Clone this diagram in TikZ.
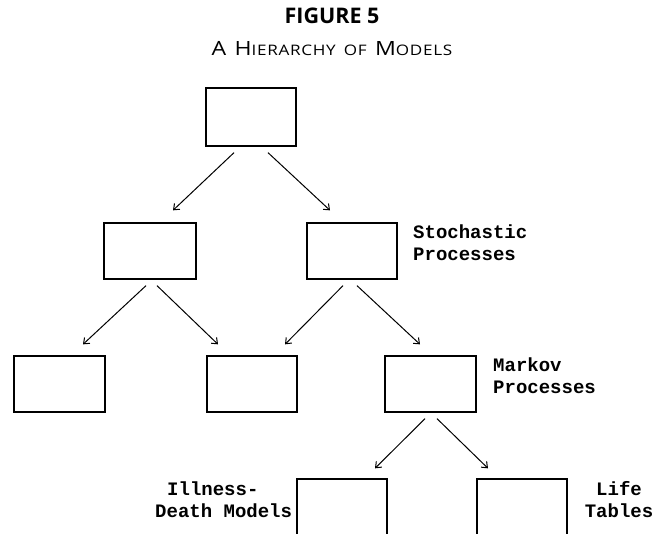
\documentclass[tikz,border=0pt]{standalone}
\usepackage{fontspec}
\setmainfont{Open Sans}
\newfontfamily\labelfont{Liberation Mono}
\newfontfamily\subtitlefont[LetterSpace=4]{Open Sans}
\usetikzlibrary{arrows.meta}

% small caps built by hand: full caps at 19.6pt, lower capitals at 14.5pt
\newcommand{\fullcapital}[1]{{\fontsize{19.6}{22}\selectfont #1}}
\newcommand{\lowcapital}[1]{{\fontsize{14.5}{16}\selectfont #1}}

\begin{document}
\begin{tikzpicture}[x=1pt,y=-1pt,
  modelbox/.style={draw, line width=1.3pt, minimum width=90pt, minimum height=56pt, inner sep=0pt},
  arr/.style={-{Straight Barb[length=5pt,width=8pt,line width=1pt]}, line width=1pt},
  lbl/.style={font=\labelfont\bfseries\fontsize{19}{22}\selectfont, inner sep=0pt}
]
\useasboundingbox (0,0) rectangle (668,534);
\clip (0,0) rectangle (668,534);

% title
\node[font=\bfseries\fontsize{21.5}{24}\selectfont, anchor=base, inner sep=0pt] (title) at (332,24) {FIGURE 5};
\node[font=\subtitlefont, anchor=base, inner sep=0pt] (subtitle) at (332,56)
  {\scalebox{1.18}[1]{\fullcapital{A}\hspace{7pt}\fullcapital{H}\lowcapital{IERARCHY}\hspace{7pt}\lowcapital{OF}\hspace{7pt}\fullcapital{M}\lowcapital{ODELS}}};

% boxes
\node[modelbox, minimum height=58pt] (top) at (251,117) {};
\node[modelbox, minimum width=92pt] (l2a) at (150,251) {};
\node[modelbox] (l2b) at (352,251) {};
\node[modelbox, minimum width=91pt] (l3a) at (59.5,384) {};
\node[modelbox] (l3b) at (252,384) {};
\node[modelbox, minimum width=91pt] (l3c) at (430.5,384) {};
\node[modelbox, minimum height=60pt] (l4a) at (342,509) {};
\node[modelbox, minimum height=60pt] (l4b) at (522,509) {};

% connectors
\draw[arr] ([shift={(-17,6)}]top.south) -- ([shift={(23,-12)}]l2a.north);
\draw[arr] ([shift={(17,6)}]top.south) -- ([shift={(-22,-12)}]l2b.north);
\draw[arr] ([shift={(-4,6)}]l2a.south) -- ([shift={(23.5,-11)}]l3a.north);
\draw[arr] ([shift={(7,6)}]l2a.south) -- ([shift={(-34,-11)}]l3b.north);
\draw[arr] ([shift={(-9,6)}]l2b.south) -- ([shift={(33,-11)}]l3b.north);
\draw[arr] ([shift={(5,6)}]l2b.south) -- ([shift={(-10.5,-11)}]l3c.north);
\draw[arr] ([shift={(-5.5,6)}]l3c.south) -- ([shift={(33,-10)}]l4a.north);
\draw[arr] ([shift={(6.5,6)}]l3c.south) -- ([shift={(-34,-10)}]l4b.north);

% labels
\node[lbl, anchor=base west] (stoch1) at (413,239) {Stochastic};
\node[lbl, anchor=base west] (stoch2) at (413,261) {Processes};
\node[lbl, anchor=base west] (markov1) at (493,371) {Markov};
\node[lbl, anchor=base west] (markov2) at (493,393) {Processes};
\node[lbl, anchor=base west] (ill1) at (167,495) {Illness-};
\node[lbl, anchor=base west] (ill2) at (155,517) {Death Models};
\node[lbl, anchor=base] (life1) at (619,495) {Life};
\node[lbl, anchor=base] (life2) at (619,517) {Tables};
\end{tikzpicture}
\end{document}
